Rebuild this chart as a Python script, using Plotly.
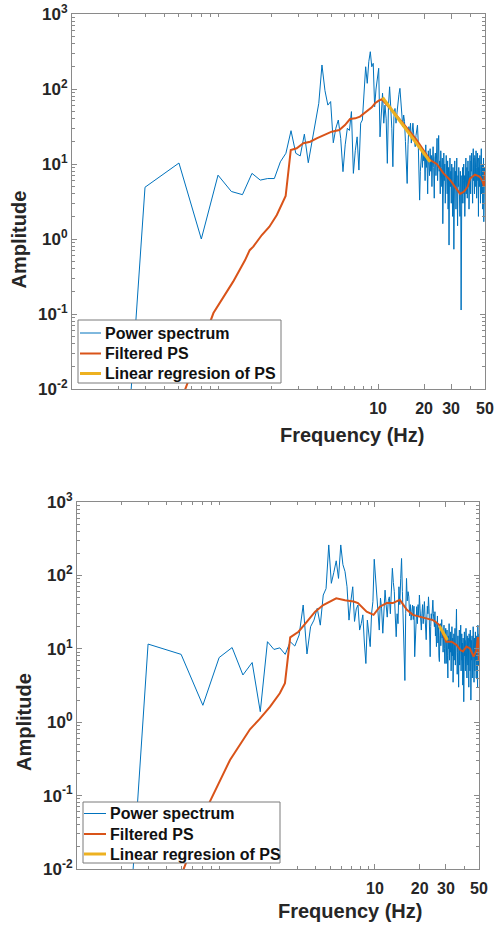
import math
import plotly.graph_objects as go

# ---------------- data ----------------
FREQ = [
    0.1, 0.3, 0.5, 0.7, 0.9, 1.1, 1.3, 1.5, 1.7, 1.9,
    2.1, 2.3, 2.5, 2.7, 2.9, 3.1, 3.3, 3.5, 3.7, 3.9,
    4.1, 4.3, 4.5, 4.7, 4.9, 5.1, 5.3, 5.5, 5.7, 5.9,
    6.1, 6.3, 6.5, 6.7, 6.9, 7.1, 7.3, 7.5, 7.7, 7.9,
    8.1, 8.3, 8.5, 8.7, 8.9, 9.1, 9.3, 9.5, 9.7, 9.9,
    10.1, 10.3, 10.5, 10.7, 10.9, 11.1, 11.3, 11.5, 11.7, 11.9,
    12.1, 12.3, 12.5, 12.7, 12.9, 13.1, 13.3, 13.5, 13.7, 13.9,
    14.1, 14.3, 14.5, 14.7, 14.9, 15.1, 15.3, 15.5, 15.7, 15.9,
    16.1, 16.3, 16.5, 16.7, 16.9, 17.1, 17.3, 17.5, 17.7, 17.9,
    18.1, 18.3, 18.5, 18.7, 18.9, 19.1, 19.3, 19.5, 19.7, 19.9,
    20.1, 20.3, 20.5, 20.7, 20.9, 21.1, 21.3, 21.5, 21.7, 21.9,
    22.1, 22.3, 22.5, 22.7, 22.9, 23.1, 23.3, 23.5, 23.7, 23.9,
    24.1, 24.3, 24.5, 24.7, 24.9, 25.1, 25.3, 25.5, 25.7, 25.9,
    26.1, 26.3, 26.5, 26.7, 26.9, 27.1, 27.3, 27.5, 27.7, 27.9,
    28.1, 28.3, 28.5, 28.7, 28.9, 29.1, 29.3, 29.5, 29.7, 29.9,
    30.1, 30.3, 30.5, 30.7, 30.9, 31.1, 31.3, 31.5, 31.7, 31.9,
    32.1, 32.3, 32.5, 32.7, 32.9, 33.1, 33.3, 33.5, 33.7, 33.9,
    34.1, 34.3, 34.5, 34.7, 34.9, 35.1, 35.3, 35.5, 35.7, 35.9,
    36.1, 36.3, 36.5, 36.7, 36.9, 37.1, 37.3, 37.5, 37.7, 37.9,
    38.1, 38.3, 38.5, 38.7, 38.9, 39.1, 39.3, 39.5, 39.7, 39.9,
    40.1, 40.3, 40.5, 40.7, 40.9, 41.1, 41.3, 41.5, 41.7, 41.9,
    42.1, 42.3, 42.5, 42.7, 42.9, 43.1, 43.3, 43.5, 43.7, 43.9,
    44.1, 44.3, 44.5, 44.7, 44.9, 45.1, 45.3, 45.5, 45.7, 45.9,
    46.1, 46.3, 46.5, 46.7, 46.9, 47.1, 47.3, 47.5, 47.7, 47.9,
    48.1, 48.3, 48.5, 48.7, 48.9, 49.1, 49.3, 49.5, 49.7, 49.9,
]

PS_TOP = [
    3e-14, 4.9, 10.3, 1.0, 7.1, 4.3, 3.9, 7.5, 6.1, 6.4,
    6.4, 10.7, 13.9, 27.8, 13.9, 12.8, 25, 10.4, 19.8, 36,
    64.5, 209, 95, 61, 68, 19.2, 30, 38.6, 22, 7.9,
    18, 30, 28, 50, 7.5, 15, 23, 8.3, 35, 38.6,
    100, 198, 119, 231, 314, 198, 220, 58, 100, 139,
    189, 23, 60, 88, 35, 61, 40, 10.2, 60, 107,
    58, 30, 9.2, 42.7, 55, 35, 48, 70, 85, 102,
    64, 50, 31.5, 45, 36.7, 20, 12, 5.5, 18, 31.5,
    25, 35, 19, 28, 35, 25, 20, 17, 24, 28,
    33, 20, 10, 3.3, 8, 12, 15.4, 9, 14, 11,
    14, 6, 18, 9, 12, 4, 15, 10, 7, 16,
    8, 13, 5, 11, 17, 9, 3.5, 12, 14, 7,
    10, 22, 6, 13, 24, 8, 11, 4, 15, 9,
    5, 12, 1.6, 9, 14, 6, 10, 3, 8, 13,
    7, 4, 11, 2.5, 9, 0.83, 6, 12, 5, 8,
    3, 10, 6, 2, 9, 4.5, 0.73, 7, 11, 5,
    8, 2.5, 6, 12, 4, 1.5, 7, 5, 9, 3,
    6, 2, 8, 4.5, 0.113, 5, 7, 3, 9, 4,
    6, 10, 3, 7, 2, 8, 5, 12, 4, 6,
    9, 3.5, 7, 11, 5, 8, 2.5, 10, 6, 13,
    7, 4, 11, 8, 14, 5, 9, 3, 10, 16,
    6, 12, 8, 4, 13, 7, 10, 5, 15, 9,
    3.5, 11, 8, 14, 6, 9, 2, 12, 7, 10,
    5, 13, 8, 3, 11, 7, 16, 4, 9, 6,
    10, 2.5, 8, 5, 12, 1.7, 7, 4, 9, 6,
]

FILT_TOP_F = [0.45, 0.55, 0.84, 1.13, 1.35, 1.45, 1.53, 1.74, 1.95, 2.18,
              2.35, 2.49, 2.69, 2.94, 3.25, 3.6, 3.97, 4.4, 4.98, 5.58,
              6.08, 6.56, 7.1, 7.62, 8.1, 8.65, 9.1, 9.56, 10.1, 10.6,
              11.1, 11.8, 12.6, 13.7, 15.0, 16.4, 17.9, 19.8, 21.9, 24.2,
              26.8, 29.6, 32.7, 34.4, 36.5, 38.6, 39.9, 41.5, 43.0, 44.7,
              46.4, 48.0, 49.3, 49.9]
FILT_TOP = [0.0033, 0.01, 0.103, 0.27, 0.52, 0.71, 0.79, 1.13, 1.46, 2.09,
            2.84, 3.74, 15.4, 16.2, 18.9, 19.8, 22, 24.4, 27, 28.4,
            33, 39.8, 40.6, 42.8, 47, 52.5, 57, 64.5, 70, 73,
            65, 57, 50, 41, 33, 26, 20.9, 15.5, 11.3, 10,
            7.5, 6.1, 4.5, 4.0, 4.3, 5.0, 6.4, 6.8, 7.2, 7.0,
            6.7, 6.0, 5.0, 7.9]

REG_TOP_F = [10.7, 21.9]
REG_TOP = [77, 10.7]

PS_BOT = [
    3e-14, 11.6, 8.4, 1.7, 7.6, 10.4, 4.4, 6.5, 1.39, 12.5,
    9.8, 10.3, 8.4, 12.5, 10.9, 15.4, 39.5, 8.5, 20, 24.6,
    35.6, 21, 54, 66, 260, 78, 110, 158, 91, 260,
    140, 113, 70, 24.6, 45, 70, 23.6, 35, 39.5, 18,
    22, 29, 12, 6.3, 24.6, 16, 10.7, 30, 44, 166,
    100, 63, 30, 18, 49, 35, 16.3, 40, 63, 40,
    27, 45, 51, 30, 60, 125, 80, 60, 28, 14.6,
    30, 22, 70, 40, 90, 170, 60, 27, 12, 3.7,
    30, 91, 45, 60, 51, 28, 40, 24.6, 32, 39.5,
    25, 38, 7.8, 15, 30, 37.5, 22, 40, 28, 54,
    35, 25, 18, 30, 40, 22, 35, 44, 28, 20,
    13.3, 25, 38, 30, 51, 35, 18, 7.8, 20, 30,
    25, 38, 46, 30, 24.6, 20, 32, 15, 22, 10.7,
    18, 28, 12, 20, 8, 6.7, 15, 22, 11, 18,
    25, 14, 18, 9, 16, 21, 10, 6.3, 14, 19,
    6.3, 12, 18, 8, 4, 15, 10, 22, 7, 13,
    9, 17, 5, 12, 20, 8, 14, 3.5, 11, 16,
    7, 13, 19, 6, 10, 25, 34.6, 12, 4.5, 9,
    15, 8, 3, 11, 18, 6, 13, 9, 21, 5,
    10, 16, 7, 12, 3.2, 14, 9, 1.9, 11, 17,
    8, 13, 5, 10, 19, 7, 12, 4, 15, 9,
    6, 14, 11, 3, 16, 8, 12, 5, 18, 10,
    2, 9, 13, 7, 15, 4, 11, 8, 20, 6,
    12, 3.5, 9, 14, 5, 10, 17, 7, 11, 4,
    9, 15, 6, 12, 3, 21, 8, 13, 6, 16,
]

FILT_BOT_F = [0.45, 0.52, 0.78, 1.065, 1.45, 1.68, 1.98, 2.3, 2.49, 2.7,
              3.07, 3.5, 3.97, 4.5, 5.15, 5.5, 6.3, 7.2, 7.7, 8.8,
              9.8, 10.8, 12.0, 13.2, 14.7, 16.4, 18.0, 20.0, 22.0, 24.5,
              25.5, 27.1, 30.1, 32.8, 35.5, 37.5, 39.0, 41.2, 43.5, 46.0,
              48.0, 49.0, 49.7, 49.9]
FILT_BOT = [0.0047, 0.01, 0.083, 0.306, 0.80, 1.1, 1.63, 2.48, 3.4, 14.3,
            17.1, 23.4, 32, 39.5, 45, 48.7, 46, 44, 42, 32,
            29, 37.5, 42, 42, 46.5, 34, 29, 27.5, 26, 24.6,
            23.4, 21, 12.5, 12.5, 11.2, 9.6, 9.2, 10.7, 10.1, 7.8,
            9.5, 14, 14, 7]

REG_BOT_F = [27.1, 30.7]
REG_BOT = [20.5, 13.2]

X_TICKS = [10, 20, 30, 50]
X_TICK_TEXT = ["10", "20", "30", "50"]
Y_TICKS = [0.01, 0.1, 1, 10, 100, 1000]
Y_TICK_TEXT = ["10<sup>-2</sup>", "10<sup>-1</sup>", "10<sup>0</sup>",
               "10<sup>1</sup>", "10<sup>2</sup>", "10<sup>3</sup>"]

NAMES = ["Power spectrum", "Filtered PS", "Linear regresion of PS"]
X_TITLE = "Frequency (Hz)"
Y_TITLE = "Amplitude"

# ---------------- style ----------------
BLUE = "#0072BD"
ORANGE = "#D95319"
YELLOW = "#EDB120"
COLORS = [BLUE, ORANGE, YELLOW]
WIDTHS = [1, 2, 3]
AXCOL = "#8a8a8a"
TXT = "#262626"
FONT = "Liberation Sans, Arial, sans-serif"

FW, FH = 497, 925


def px(x):
    return x / FW


def py(y):
    return 1 - y / FH


x_minor = [m * d for d in (0.1, 1, 10) for m in range(2, 10) if m * d < 50 and m * d not in (20, 30)]
y_minor = [m * d for d in (0.01, 0.1, 1, 10, 100) for m in range(2, 10)]

fig = go.Figure()

panels = [
    ("x", "y", PS_TOP, FILT_TOP_F, FILT_TOP, REG_TOP_F, REG_TOP),
    ("x2", "y2", PS_BOT, FILT_BOT_F, FILT_BOT, REG_BOT_F, REG_BOT),
]
for xa, ya, ps, ff, fv, rf, rv in panels:
    fig.add_trace(go.Scatter(x=FREQ, y=ps, mode="lines", name=NAMES[0],
                             line=dict(color=BLUE, width=1), xaxis=xa, yaxis=ya))
    fig.add_trace(go.Scatter(x=ff, y=fv, mode="lines", name=NAMES[1],
                             line=dict(color=ORANGE, width=2), xaxis=xa, yaxis=ya))
    fig.add_trace(go.Scatter(x=rf, y=rv, mode="lines", name=NAMES[2],
                             line=dict(color=YELLOW, width=3), xaxis=xa, yaxis=ya))


def xaxis(domain, anchor):
    return dict(domain=domain, anchor=anchor, type="log",
                range=[-1, math.log10(50)], automargin=False,
                tickmode="array", tickvals=X_TICKS, ticktext=X_TICK_TEXT,
                ticks="inside", ticklen=5, tickcolor=AXCOL, tickwidth=1,
                showline=True, linecolor=AXCOL, linewidth=1, mirror="ticks",
                showgrid=False, zeroline=False, ticklabelstandoff=5,
                tickfont=dict(family=FONT, size=16, color=TXT, weight="bold"),
                minor=dict(tickmode="array", tickvals=x_minor, ticks="inside",
                           ticklen=3, tickcolor=AXCOL, showgrid=False))


def yaxis(domain, anchor):
    return dict(domain=domain, anchor=anchor, type="log", range=[-2, 3],
                automargin=False,
                tickmode="array", tickvals=Y_TICKS, ticktext=Y_TICK_TEXT,
                ticks="inside", ticklen=5, tickcolor=AXCOL, tickwidth=1,
                showline=True, linecolor=AXCOL, linewidth=1, mirror="ticks",
                showgrid=False, zeroline=False, ticklabelstandoff=0,
                tickfont=dict(family=FONT, size=17, color=TXT, weight="bold"),
                minor=dict(tickmode="array", tickvals=y_minor, ticks="inside",
                           ticklen=3, tickcolor=AXCOL, showgrid=False))


fig.update_layout(
    width=FW, height=FH, autosize=False,
    margin=dict(l=0, r=0, t=0, b=0, pad=0, autoexpand=False),
    paper_bgcolor="white", plot_bgcolor="white",
    showlegend=False,
    xaxis=xaxis([px(72), px(485)], "y"),
    yaxis=yaxis([py(389), py(14)], "x"),
    xaxis2=xaxis([px(77), px(479)], "y2"),
    yaxis2=yaxis([py(869), py(502)], "x2"),
)

# legend boxes (drawn as box + samples + text)
legends = [
    (78, 281, 320, 383, 80, 101, [333, 353.5, 373.5]),
    (83, 280, 802, 863, 84, 106, [813.5, 834, 854]),
]
leg_font = dict(family=FONT, size=16, color="#111111", weight="bold")
for bx0, bx1, by0, by1, sx0, sx1, rows in legends:
    fig.add_shape(type="rect", xref="paper", yref="paper",
                  x0=px(bx0), x1=px(bx1), y0=py(by1), y1=py(by0),
                  fillcolor="white", line=dict(color="#7a7a7a", width=1), layer="above")
    for name, col, wd, ry in zip(NAMES, COLORS, WIDTHS, rows):
        fig.add_shape(type="line", xref="paper", yref="paper",
                      x0=px(sx0), x1=px(sx1), y0=py(ry), y1=py(ry),
                      line=dict(color=col, width=wd), layer="above")
        fig.add_annotation(text=name, x=px(sx1 + 2), y=py(ry), xref="paper", yref="paper",
                           xanchor="left", yanchor="middle", showarrow=False,
                           font=leg_font)

title_font = dict(family=FONT, size=20, color=TXT, weight="bold")
for txt, xp, yp, ang in [(X_TITLE, 352, 435, 0),
                         (Y_TITLE, 18.5, 240, -90),
                         (X_TITLE, 350, 911, 0),
                         (Y_TITLE, 24, 722, -90)]:
    fig.add_annotation(text=txt, x=px(xp), y=py(yp), xref="paper", yref="paper",
                       xanchor="center", yanchor="middle", showarrow=False,
                       textangle=ang, font=title_font)

RESET_PAGE = ("document.documentElement.style.margin='0';"
              "document.body.style.margin='0';"
              "document.documentElement.style.overflow='hidden';"
              "document.body.style.overflow='hidden';")

fig.write_html("out.html", post_script=RESET_PAGE,
               config={"displayModeBar": False, "staticPlot": True})
